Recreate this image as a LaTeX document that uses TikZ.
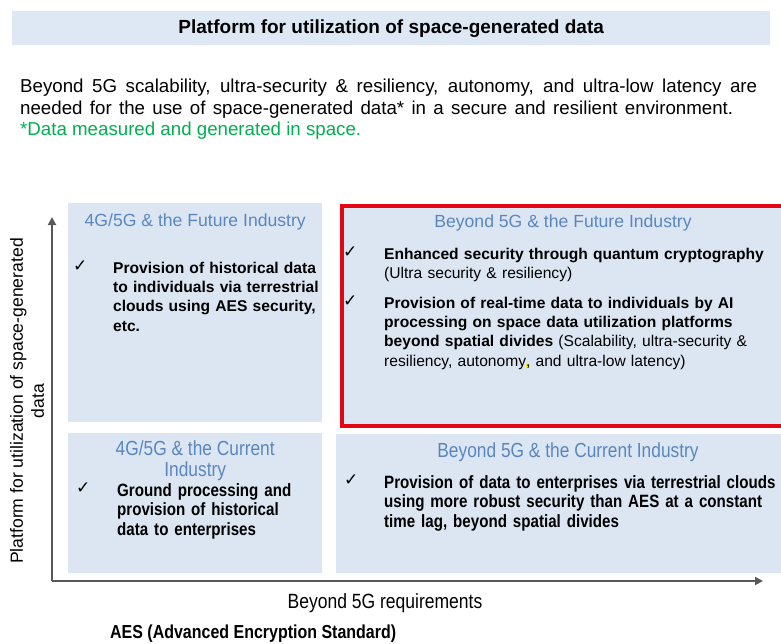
\documentclass[tikz,border=0pt]{standalone}
\usepackage{fontspec}
\setmainfont{Liberation Sans}
\newfontfamily\narrowfont[FakeStretch=0.85]{Liberation Sans}
\newfontfamily\symfont{DejaVu Sans}
\usetikzlibrary{arrows.meta,calc,positioning}
\definecolor{quadfill}{HTML}{DCE6F2}
\definecolor{bandfill}{HTML}{DDE8F4}
\definecolor{headblue}{HTML}{5A86C0}
\definecolor{framered}{HTML}{E30613}
\definecolor{notegreen}{HTML}{00B050}
\definecolor{axisgray}{HTML}{595959}
\tikzset{
  quad/.style={fill=quadfill, anchor=north west, inner sep=0pt},
  quadhead/.style={text=headblue, font=\fontsize{17.6}{21}\selectfont, align=center, inner sep=0pt, anchor=north},
  narrowhead/.style={quadhead, font=\narrowfont\fontsize{20.4}{21}\selectfont},
  tick/.style={font=\symfont\fontsize{17}{17}\selectfont, anchor=north west, inner sep=0pt},
  itemtext/.style={font=\bfseries\fontsize{15.6}{19.2}\selectfont, align=left, anchor=north west, inner sep=0pt},
  narrowitem/.style={itemtext, font=\narrowfont\bfseries\fontsize{17.8}{19.6}\selectfont},
  axis/.style={draw=axisgray, line width=1.8pt, -{Triangle[length=8pt,width=8pt]}}
}
\begin{document}
\begin{tikzpicture}[x=1pt,y=-1pt]
  \useasboundingbox[fill=white] (0,0) rectangle (781,643);
  \clip (0,0) rectangle (781,643);

  % heading and introduction
  \node[fill=bandfill, minimum width=758pt, minimum height=34pt, anchor=north west, inner sep=0pt,
        font=\bfseries\fontsize{19}{19}\selectfont] (title) at (12,11) {Platform for utilization of space-generated data};
  \node[anchor=north west, align=left, inner sep=0pt, font=\fontsize{18.7}{21.5}\selectfont] (intro) at (20,79)
    {\makebox[737pt][s]{Beyond 5G scalability, ultra-security \& resiliency, autonomy, and ultra-low latency are}\\
     \makebox[713pt][s]{needed for the use of space-generated data* in a secure and resilient environment.}\\
     \textcolor{notegreen}{*Data measured and generated in space.}};

  % quadrants
  \node[quad, minimum width=254pt, minimum height=219pt] (tl) at (68,203) {};
  \node[quad, minimum width=446pt, minimum height=220pt, draw=framered, line width=4pt] (tr) at (340,204) {};
  \node[quad, minimum width=254pt, minimum height=140pt] (bl) at (68,433) {};
  \node[quad, minimum width=450pt, minimum height=139pt] (br) at (336,434) {};

  \node[quadhead] (tlhead) at ($(tl.north)+(0,11)$) {4G/5G \& the Future Industry};
  \node[quadhead] (trhead) at ($(tr.north west)+(223,11)$) {Beyond 5G \& the Future Industry};
  \node[narrowhead] (blhead) at ($(bl.north)+(0,8)$) {4G/5G \& the Current\\Industry};
  \node[narrowhead] (brhead) at ($(br.north west)+(232,9)$) {Beyond 5G \& the Current Industry};

  % items
  \node[tick] (tlcheck) at (73,261) {✓};
  \node[itemtext, text width=215pt] (tlitem) at (113,262)
    {Provision of historical data\\to individuals via terrestrial\\clouds using AES security,\\etc.};
  \node[tick] (trcheck) at (343,247) {✓};
  \node[itemtext, text width=395pt] (tritem) at (384,248)
    {Enhanced security through quantum cryptography\\\mdseries(Ultra security \& resiliency)};
  \node[tick] (trcheckb) at (343,296) {✓};
  \node[itemtext, text width=395pt] (tritemb) at (384,297)
    {Provision of real-time data to individuals by AI\\processing on space data utilization platforms\\
     beyond spatial divides \mdseries(Scalability, ultra-security \&\\
     resiliency, autonomy{\setlength{\fboxsep}{0pt}\colorbox{yellow}{,}} and ultra-low latency)};
  \node[tick] (blcheck) at (76,483) {✓};
  \node[narrowitem, text width=200pt] (blitem) at (117,483)
    {Ground processing and\\provision of historical\\data to enterprises};
  \node[tick] (brcheck) at (344,475) {✓};
  \node[narrowitem, text width=420pt] (britem) at (384,475)
    {Provision of data to enterprises via terrestrial clouds\\using more robust security than AES at a constant\\time lag, beyond spatial divides};

  % axes
  \coordinate (origin) at (52,581);
  \coordinate (ytip) at (52,217);
  \coordinate (xtip) at (763,581);
  \draw[axis] (origin) -- (ytip);
  \draw[axis] (origin) -- (xtip);
  \node[rotate=90, align=center, inner sep=0pt, font=\fontsize{17.6}{21}\selectfont] (ylabel) at (27,401)
    {Platform for utilization of space-generated\\data};
  \node[inner sep=0pt, font=\narrowfont\fontsize{20.6}{20.6}\selectfont] (xlabel) at (385,603) {Beyond 5G requirements};
  \node[anchor=west, inner sep=0pt, font=\narrowfont\bfseries\fontsize{18.8}{18.8}\selectfont] (aesnote) at (110,634)
    {AES (Advanced Encryption Standard)};
\end{tikzpicture}
\end{document}
